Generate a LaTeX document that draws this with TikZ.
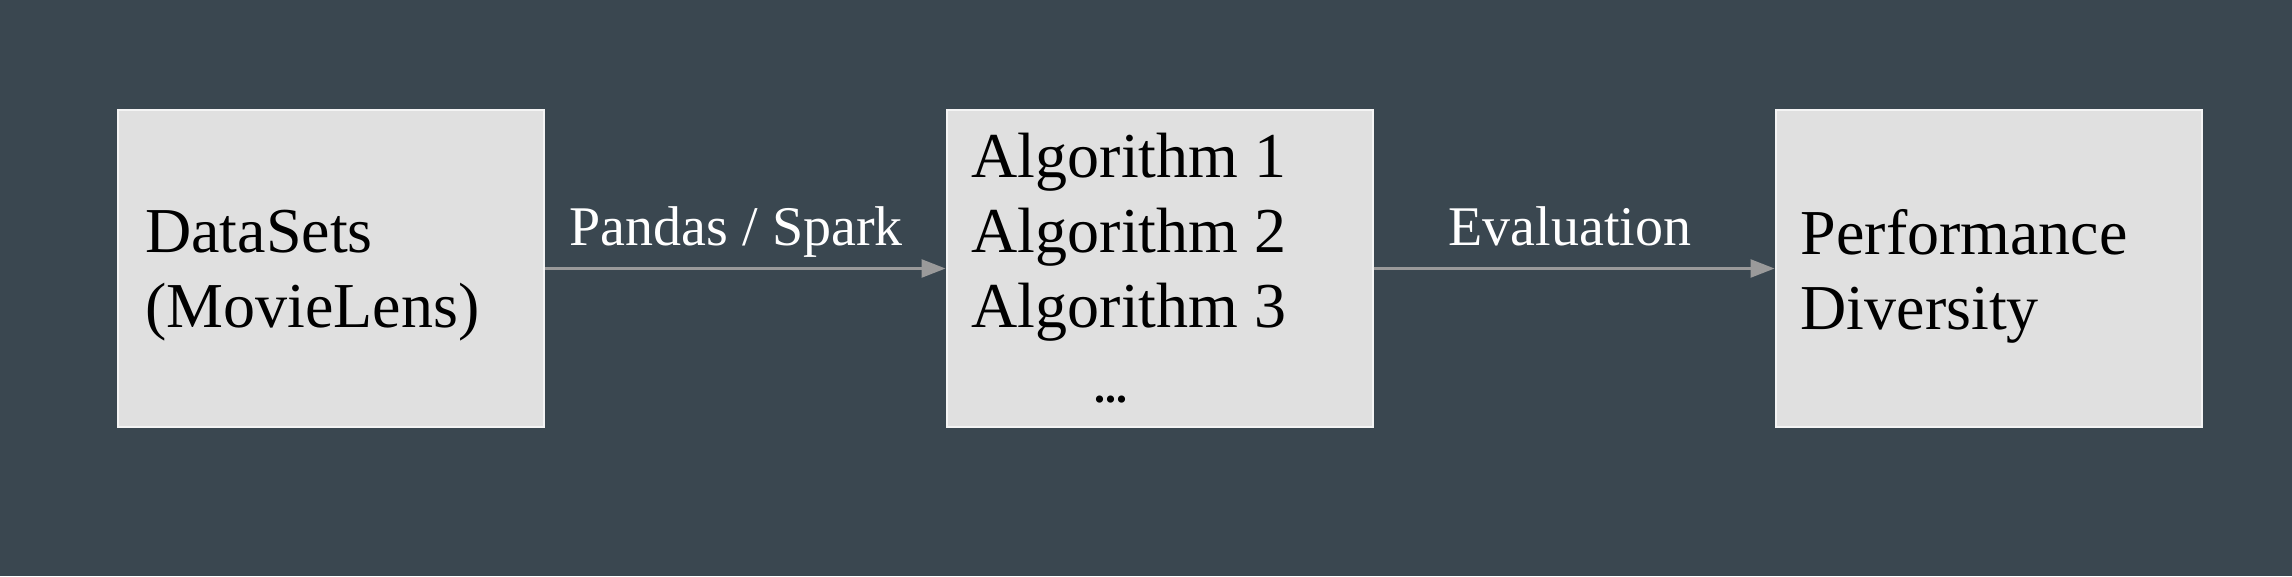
\documentclass[tikz,border=0pt]{standalone}
\usepackage{fontspec}
\setmainfont{Liberation Serif}
\usetikzlibrary{positioning,arrows.meta}
\definecolor{bgslate}{HTML}{3A4750}
\definecolor{boxgrey}{HTML}{E0E0E0}
\definecolor{boxedge}{HTML}{F4F4F4}
\definecolor{flowgrey}{HTML}{9A9A9A}

\begin{document}
\begin{tikzpicture}[x=1pt,y=1pt,
    block/.style={draw=boxedge,line width=2pt,fill=boxgrey,minimum width=426pt,minimum height=317pt,inner sep=0pt},
    blocktext/.style={anchor=west,align=left,inner sep=0pt,font=\fontsize{64}{75}\selectfont},
    flow/.style={-{Triangle[length=24pt,width=18pt]},draw=flowgrey,line width=2.5pt},
    flowlabel/.style={text=white,anchor=base,yshift=23pt,font=\fontsize{56}{66}\selectfont}]
     \fill[bgslate] (0,0) rectangle (2292,576);
     \useasboundingbox (0,0) rectangle (2292,576);

     \node[block] (data) at (331,307.5) {};
     \node[block] (algo) at (1159.5,307.5) {};
     \node[block] (perf) at (1988.5,307.5) {};

     \node[blocktext,right=28pt of data.west,yshift=-7pt] (data_txt) {DataSets\\(MovieLens)};
     \node[blocktext,right=26pt of algo.west] (algo_txt) {Algorithm 1\\Algorithm 2\\Algorithm 3\\\hspace*{123pt}{\fontsize{44}{75}\selectfont\bfseries ...}};
     \node[blocktext,right=26pt of perf.west,yshift=-8pt] (perf_txt) {Performance\\Diversity};

     \draw[flow] (data) -- (algo) node[flowlabel,midway,xshift=-9pt] (pandas) {Pandas / Spark};
     \draw[flow] (algo) -- (perf) node[flowlabel,midway,xshift=-4pt] (evalu) {Evaluation};
\end{tikzpicture}
\end{document}
